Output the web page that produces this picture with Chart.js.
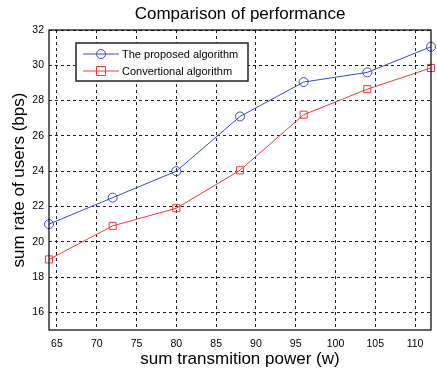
<!DOCTYPE html>
<html>
<head>
<meta charset="utf-8">
<script src="https://cdn.jsdelivr.net/npm/chart.js@4"></script>
<style>
  html, body { margin:0; padding:0; background:#fff; }
  #wrap { width:437px; height:376px; }
</style>
</head>
<body>
<div id="wrap"><canvas id="c" width="437" height="376"></canvas></div>
<script>
// data
const powers   = [64, 72, 80, 88, 96, 104, 112];
const proposed = [21.0, 22.5, 24.0, 27.1, 29.05, 29.6, 31.05];
const conventional = [19.0, 20.9, 21.9, 24.05, 27.2, 28.65, 29.85];
const xTicks = [65, 70, 75, 80, 85, 90, 95, 100, 105, 110];
const yTicks = [16, 18, 20, 22, 24, 26, 28, 30, 32];

const FONT = "'Liberation Sans', Arial, Helvetica, sans-serif";
const BLUE = "#3b4cc4";
const RED = "#ee3a3a";

const toXY = (xs, ys) => xs.map((x, i) => ({ x, y: ys[i] }));

/* frame, title and legend box drawn on top */
const extras = {
  id: "extras",
  afterDraw(chart){
    const { ctx, chartArea: a } = chart;
    ctx.save();
    // axes box
    ctx.strokeStyle = "#000"; ctx.lineWidth = 1.2; ctx.setLineDash([]);
    ctx.strokeRect(a.left, a.top, a.right - a.left, a.bottom - a.top);
    // title
    ctx.fillStyle = "#000";
    ctx.font = `17px ${FONT}`;
    ctx.textAlign = "center"; ctx.textBaseline = "middle";
    ctx.fillText("Comparison of performance", (a.left + a.right) / 2, 14);
    // legend
    const lx = 76, ly = 43, lw = 172, lh = 38;
    ctx.fillStyle = "#fff";
    ctx.fillRect(lx, ly, lw, lh);
    ctx.strokeStyle = "#222"; ctx.lineWidth = 1.5;
    ctx.strokeRect(lx, ly, lw, lh);
    const items = [
      { label: chart.data.datasets[0].label, color: BLUE, mark: "circle", y: ly + 11 },
      { label: chart.data.datasets[1].label, color: RED, mark: "rect", y: ly + 28 }
    ];
    ctx.font = `11px ${FONT}`;
    ctx.textAlign = "left";
    items.forEach(it => {
      ctx.strokeStyle = it.color; ctx.lineWidth = 1;
      ctx.beginPath(); ctx.moveTo(lx + 7, it.y); ctx.lineTo(lx + 43, it.y); ctx.stroke();
      ctx.beginPath();
      if (it.mark === "circle") ctx.arc(lx + 25, it.y, 4.5, 0, Math.PI * 2);
      else ctx.rect(lx + 20.5, it.y - 4.5, 9, 9);
      ctx.stroke();
      ctx.fillStyle = "#000";
      ctx.fillText(it.label, lx + 46, it.y + 0.5);
    });
    ctx.restore();
  }
};

const gridOpts = { color: "#222", lineWidth: 1, drawTicks: false };

new Chart(document.getElementById("c"), {
  type: "line",
  data: {
    datasets: [
      {
        label: "The proposed algorithm",
        data: toXY(powers, proposed),
        borderColor: BLUE, backgroundColor: "rgba(0,0,0,0)",
        borderWidth: 1, pointStyle: "circle", pointRadius: 4.5,
        pointBorderColor: BLUE, pointBorderWidth: 1, tension: 0
      },
      {
        label: "Convertional algorithm",
        data: toXY(powers, conventional),
        borderColor: RED, backgroundColor: "rgba(0,0,0,0)",
        borderWidth: 1, pointStyle: "rect", pointRadius: 5,
        pointBorderColor: RED, pointBorderWidth: 1, tension: 0
      }
    ]
  },
  options: {
    responsive: false, animation: false, devicePixelRatio: 1,
    clip: false,
    layout: { padding: { top: 30, right: 4, left: 0, bottom: 0 } },
    plugins: { legend: { display: false }, title: { display: false }, tooltip: { enabled: false } },
    scales: {
      x: {
        type: "linear", min: 64, max: 112,
        afterBuildTicks: s => { s.ticks = xTicks.map(v => ({ value: v })); },
        afterFit: s => { s.height = 46; },
        grid: gridOpts,
        border: { display: false, dash: [3, 3] },
        ticks: { color: "#000", font: { family: FONT, size: 10.5 }, padding: 8, maxRotation: 0, autoSkip: false },
        title: { display: true, text: "sum transmition power (w)", color: "#000",
                 font: { family: FONT, size: 17 }, padding: { top: 0, bottom: 6 } }
      },
      y: {
        type: "linear", min: 15, max: 32,
        afterBuildTicks: s => { s.ticks = yTicks.map(v => ({ value: v })); },
        afterFit: s => { s.width = 49; },
        grid: gridOpts,
        border: { display: false, dash: [3, 3] },
        ticks: { color: "#000", font: { family: FONT, size: 10.5 }, padding: 5 },
        title: { display: true, text: "sum rate of users (bps)", color: "#000",
                 font: { family: FONT, size: 17 }, padding: { top: 9, bottom: 0 } }
      }
    }
  },
  plugins: [extras]
});
</script>
</body>
</html>
